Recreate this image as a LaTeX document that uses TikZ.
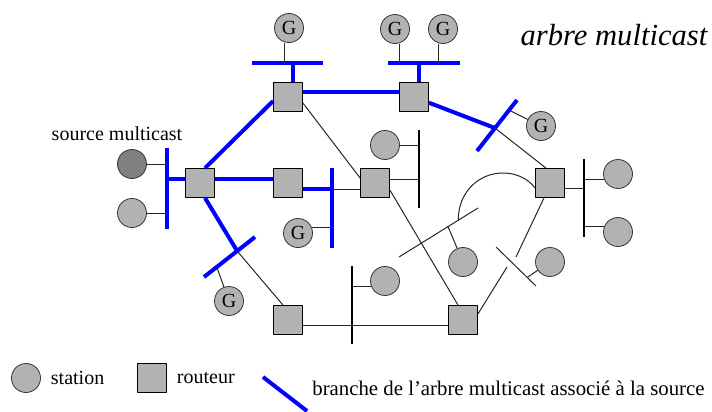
\documentclass[tikz,border=0pt]{standalone}
\usepackage{fontspec}
\setmainfont{Liberation Serif}
\usetikzlibrary{positioning,calc}
\tikzset{
	station/.style={circle, draw=black!80, fill=black!30, minimum size=14.5pt, inner sep=0pt},
	routeur/.style={draw=black, fill=black!30, minimum size=14.5pt, inner sep=0pt},
	lien/.style={draw=black!85, line width=0.5pt},
	bus/.style={draw=black, line width=0.65pt},
	arbre/.style={draw=blue, line width=2pt}
}
\begin{document}
\begin{tikzpicture}[x=0.5pt, y=-0.5pt, font=\fontsize{10}{12}\selectfont, line join=round]
	\useasboundingbox (0,0) rectangle (712,412);
	\foreach \n/\x/\y in {r1/288/97, r2/414/97, r3/200/183, r4/288/183, r5/375/183, r6/550/183, r7/288/320, r8/463/320}
		\node[routeur] (\n) at (\x,\y) {};
	\foreach \n/\x/\y in {g1/289/28, g2/395/29, g3/443/29, g4/541/126, g5/298/233, g6/229/301}
		\node[station] (\n) at (\x,\y) {G};
	\foreach \n/\x/\y in {s1/132/213, s2/385/145, s3/463/262, s4/550/262, s5/618/174, s6/618/232, s7/385/281}
		\node[station] (\n) at (\x,\y) {};
	\node[station, fill=black!50] (src) at (132,164) {};
	\node (lsrc) at (117,134) {source multicast};
	\node[font=\itshape\fontsize{15.3}{18}\selectfont] (titre) at (614,35) {arbre multicast};
	\draw[arbre] (252,63) coordinate (b1w) -- (323,63) coordinate (b1e);
	\draw[lien] ([xshift=-2.5pt]g1.south) -- ([xshift=-2.5pt]g1.south |- b1w);
	\draw[arbre] ([xshift=2.5pt]r1.north) -- ([xshift=2.5pt]r1.north |- b1w);
	\draw[arbre] (388,63) coordinate (b2w) -- (460,63) coordinate (b2e);
	\draw[lien] ([xshift=2pt]g2.south) -- ([xshift=2pt]g2.south |- b2w);
	\draw[lien] ([xshift=-2.5pt]g3.south) -- ([xshift=-2.5pt]g3.south |- b2w);
	\draw[arbre] ([xshift=2.5pt]r2.north) -- ([xshift=2.5pt]r2.north |- b2w);
	\draw[arbre] ([yshift=2.5pt]r1.east) -- ([yshift=2.5pt]r2.west);
	\draw[arbre] (477,151) coordinate (b3s) -- (517,100) coordinate (b3n);
	\coordinate (x3) at ($(b3s)!0.45!(b3n)$);
	\draw[arbre] (r2) -- (x3);
	\draw[lien] (x3) -- ([xshift=-2pt]r6.north);
	\draw[lien] (g4) -- ($(b3s)!0.8!(b3n)$);
	\draw[arbre] (167,148) coordinate (b4n) -- (167,229) coordinate (b4s);
	\draw[lien] (src) -- (src -| b4n);
	\draw[lien] (s1) -- (s1 -| b4n);
	\draw[arbre] ([yshift=2pt]r3.west) -- ([yshift=2pt]r3.west -| b4n);
	\draw[arbre] ([yshift=2pt]r3.east) -- ([yshift=2pt]r4.west);
	\draw[arbre] ([xshift=2.5pt]r3.north) -- ([yshift=-2pt]r1.west);
	\draw[arbre] (332,168) coordinate (b5n) -- (332,248) coordinate (b5s);
	\draw[arbre] ([yshift=-3pt]r4.east) -- ([yshift=-3pt]r4.east -| b5n);
	\draw[lien] ([yshift=-3pt]r5.west) -- ([yshift=-3pt]r5.west -| b5n);
	\draw[lien] (g5.20) -- (g5.20 -| b5n);
	\draw[arbre] (204,277) coordinate (b6w) -- (255,237) coordinate (b6e);
	\coordinate (x6) at ($(b6w)!0.65!(b6e)$);
	\draw[arbre] ([xshift=2.5pt]r3.south) -- (x6);
	\draw[lien] (x6) -- ([xshift=-2.5pt]r7.north);
	\draw[lien] (g6) -- ($(b6w)!0.25!(b6e)$);
	\draw[lien] ([yshift=-3pt]r1.east) -- ([yshift=2.5pt]r5.west);
	\draw[bus] (419,130) coordinate (b7n) -- (419,208) coordinate (b7s);
	\draw[lien] ([yshift=2pt]r5.east) -- ([yshift=2pt]r5.east -| b7n);
	\draw[lien] (s2) -- (s2 -| b7n);
	\draw[lien] ([yshift=-3.5pt]r5.east) -- ([xshift=-2.5pt]r8.north);
	\draw[lien] (399,257) coordinate (b8w) -- (478,208) coordinate (b8e);
	\draw[lien] (s3) -- ($(b8w)!0.62!(b8e)$);
	\draw[lien] ($(b8w)!0.75!(b8e)$) .. controls (458,193) and (478,173) .. (503,173)
		.. controls (515.5,173) and (527.5,178) .. ([yshift=-2.5pt]r6.west);
	\draw[lien] (496,247) coordinate (b9n) -- (536,286) coordinate (b9s);
	\coordinate (c1) at (516,257);
	\coordinate (c2) at (507,267);
	\draw[lien] ([xshift=-3pt]r6.south) -- (c1);
	\draw[lien] ([yshift=3pt]r8.east) -- (c2);
	\draw[lien] (s4) -- ($(b9n)!0.78!(b9s)$);
	\draw[bus] (584,159) coordinate (b10n) -- (584,237) coordinate (b10s);
	\draw[lien] ([yshift=-2.5pt]r6.east) -- ([yshift=-2.5pt]r6.east -| b10n);
	\draw[lien] (s5.200) -- (s5.200 -| b10n);
	\draw[lien] (s6.160) -- (s6.160 -| b10n);
	\draw[lien] ([yshift=-2.5pt]r7.east) -- ([yshift=-2.5pt]r8.west);
	\draw[bus] (352,266) coordinate (b11n) -- (352,344) coordinate (b11s);
	\draw[lien] (s7.200) -- (s7.200 -| b11n);
	\node[station] (lst) at (26,378) {};
	\node[right=1.5pt of lst] (tst) {station};
	\node[routeur] (lrt) at (152,378) {};
	\node[right=1.5pt of lrt] (trt) {routeur};
	\draw[arbre] (263,377) coordinate (la) -- (307,411) coordinate (lb);
	\node[anchor=base west, inner sep=0pt, font=\fontsize{10.4}{12}\selectfont] (tbr) at (312,395) {branche de l'arbre multicast associé à la source};
\end{tikzpicture}
\end{document}
